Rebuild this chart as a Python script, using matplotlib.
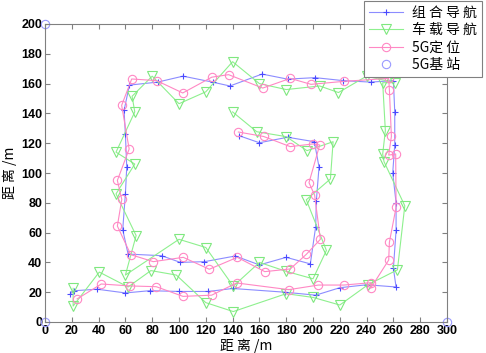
import matplotlib
matplotlib.use('Agg')
import matplotlib.pyplot as plt

plt.rcParams['font.family'] = ['Noto Sans CJK SC', 'DejaVu Sans']

# 组合导航 (blue, +)
blue_x = [19, 22, 39, 60, 78, 100, 122, 140, 179, 202, 220, 240, 262,
          260, 262, 262, 259.5, 261, 261, 260,
          243, 222.5, 201.5, 181, 162, 138, 125, 103, 84, 63,
          59, 60, 61, 60, 58, 62,
          87, 101, 119, 142, 160, 180, 198,
          202, 202.5, 204.5, 201,
          181, 160, 145]
blue_y = [19, 21, 22, 19.5, 21, 20.5, 20.5, 22.5, 20, 18, 23, 25, 23.5,
          36, 61.5, 80, 100, 119, 141, 162,
          161, 162, 164, 163, 166.4, 158.4, 161, 165, 161, 159,
          142, 126, 104, 86, 62, 45.6,
          44.5, 40, 40.5, 44.3, 38.3, 43.4, 39,
          64, 81.4, 104, 121,
          124, 120.3, 125]

# 车载导航 (green, v)
green_x = [21, 21, 40.5, 62, 79, 98, 120, 140.5, 180, 200, 220, 241, 263,
           268.5, 253, 252, 254, 252, 261,
           240, 219, 205, 180, 160, 140, 120, 100, 80,
           65, 67, 53, 67, 53, 68,
           60, 100, 120, 140.5, 160, 180, 200,
           210, 195, 213, 215,
           195.5, 180, 158, 140]
green_y = [22.6, 10.7, 33.5, 23.5, 34.5, 31.5, 13, 7, 19, 16.5, 11.4, 25, 35,
           78, 107.6, 112.7, 128.4, 160.6, 160.6,
           165, 154, 158.4, 156, 160, 174.7, 154.5, 146.5, 165,
           151.5, 141, 114, 106, 86, 58,
           31.5, 55.5, 50, 24, 40, 34, 29,
           48, 82, 96, 121,
           115, 124.4, 127.7, 141]

# 5G定位 (pink, o)
pink_x = [24, 42, 63.5, 83, 103, 124.4, 143, 182, 204, 223, 243.5, 243,
          256.5, 257, 262, 261.7, 256.5, 258.5, 257, 256.5,
          223, 198.5, 183, 162.5, 137, 124.4, 102.8, 83.3, 64.7,
          57.2, 62.8, 54, 57.3, 54, 64,
          80.8, 103.2, 122.6, 143.5, 164, 183, 195,
          205.5, 201.2, 197, 205, 200,
          183, 163.2, 144.3]
pink_y = [15.5, 25.5, 24.2, 23.7, 17.2, 18, 26.2, 21.7, 24.8, 24.8, 26.4, 22.6,
          41.6, 53.5, 77, 112.8, 112, 124.6, 156, 163.5,
          161.5, 159.5, 163.5, 157, 166, 164.3, 153.7, 162, 163.1,
          145.4, 116.1, 95, 82.3, 64.4, 45.2,
          40.5, 43.4, 35.4, 43.4, 33.8, 35.6, 45.4,
          55.5, 85.2, 93.5, 118.8, 119.5,
          117.7, 124.5, 127.5]

# 5G基站
bs_x = [0, 0, 300]
bs_y = [0, 200, 0]

labels = ['组 合 导 航', '车 载 导 航', '5G定 位', '5G基 站']

fig = plt.figure(figsize=(4.86, 3.53), dpi=100)
ax = fig.add_axes([45 / 486, 1 - 322 / 353, 402 / 486, 298 / 353])

ax.plot(blue_x, blue_y, color='#8c8cff', lw=0.8, marker='+', ms=5,
        mec='#4a4aff', mew=0.8, label=labels[0])
ax.plot(green_x, green_y, color='#8ef08e', lw=0.8, marker='v', ms=6.5,
        mfc='none', mec='#7fe87f', mew=0.8, label=labels[1])
ax.plot(pink_x, pink_y, color='#ff88c4', lw=0.8, marker='o', ms=6,
        mfc='none', mec='#ff88c4', mew=0.8, label=labels[2])
ax.plot(bs_x, bs_y, ls='none', marker='o', ms=6, mfc='none',
        mec='#9a9aff', mew=0.8, clip_on=False, label=labels[3])

ax.set_xlim(0, 300)
ax.set_ylim(0, 200)
ax.set_xticks(range(0, 301, 20))
ax.set_yticks(range(0, 201, 20))
ax.tick_params(direction='in', top=True, right=True, length=3.5,
               color='#808080', labelsize=9, pad=2)
for lab in ax.get_xticklabels() + ax.get_yticklabels():
    lab.set_family('Liberation Sans')
    lab.set_fontweight('bold')
for sp in ax.spines.values():
    sp.set_color('#808080')
    sp.set_linewidth(0.8)

ax.set_xlabel('距 离 /m', fontsize=10, labelpad=1)
ax.set_ylabel('距 离 /m', fontsize=10, labelpad=3)

leg = fig.legend(loc='upper right', bbox_to_anchor=(482 / 486, 1 - 1 / 353),
                 fancybox=False, edgecolor='#808080', framealpha=1,
                 fontsize=10, labelspacing=0.24, handlelength=2.4,
                 borderpad=0.35, handletextpad=0.7, borderaxespad=0)
leg.get_frame().set_linewidth(0.8)

fig.savefig('out.png', dpi=100)
